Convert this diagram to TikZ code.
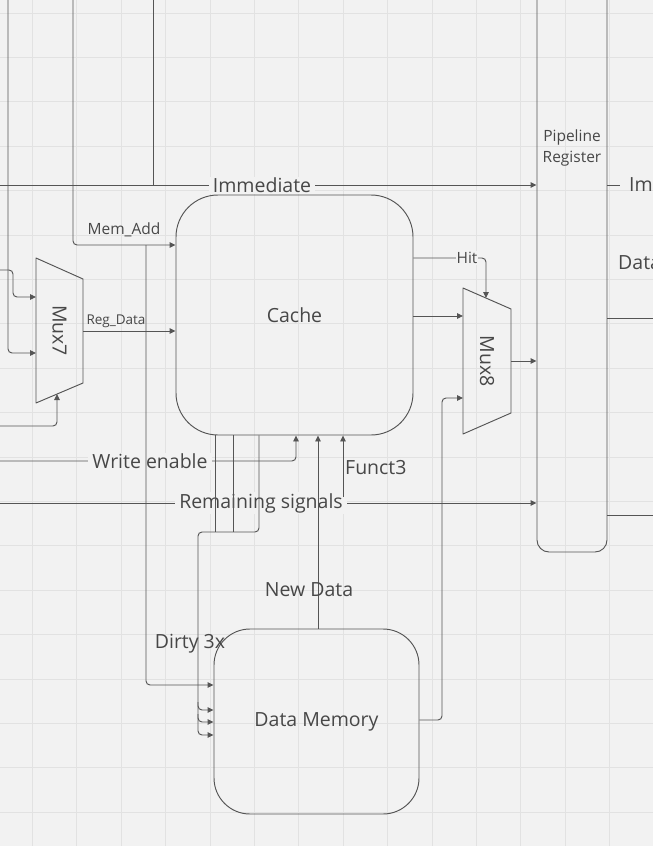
\documentclass[tikz,border=0pt]{standalone}
\usepackage{fontspec}
\setmainfont{Open Sans}
\usetikzlibrary{arrows.meta,positioning}

\definecolor{bgcol}{HTML}{F2F2F2}
\definecolor{gridcol}{HTML}{E2E2E2}
\definecolor{wirecol}{HTML}{555555}
\definecolor{txtcol}{HTML}{474747}

\begin{document}
\begin{tikzpicture}[x=1pt,y=-1pt,
    wire/.style={draw=wirecol, line width=0.95pt, rounded corners=4pt},
    arr/.style={wire, -{Triangle[length=6pt,width=5.5pt]}},
    lbl/.style={text=txtcol, inner sep=1pt, font=\fontsize{19.5}{23}\selectfont},
    cut/.style={lbl, fill=bgcol, inner xsep=4pt},
    small/.style={lbl, font=\fontsize{15.5}{21}\selectfont},
    tiny/.style={lbl, font=\fontsize{13.5}{16}\selectfont},
    block/.style={draw=wirecol, line width=0.95pt, inner sep=0pt, text=txtcol,
        font=\fontsize{19.5}{23}\selectfont},
    muxbody/.style={draw=wirecol, line width=0.95pt, line join=round}]

    \useasboundingbox (0,0) rectangle (653,846);
    \clip (0,0) rectangle (653,846);

    % Canvas grid
    \fill[bgcol] (0,0) rectangle (653,846);
    \foreach \gx in {0,...,13}
        \draw[gridcol, line width=0.9pt] (32.5+44.4*\gx,0) -- (32.5+44.4*\gx,846);
    \foreach \gy in {0,...,18}
        \draw[gridcol, line width=0.9pt] (0,13+44.4*\gy) -- (653,13+44.4*\gy);

    % Blocks
    \node[block, rounded corners=42pt, minimum width=237pt, minimum height=240pt] (cache) at (294.5,315) {Cache};
    \node[block, rounded corners=36pt, minimum width=205pt, minimum height=185pt] (dmem) at (316.5,721.5) {Data Memory};
    \node[block, rounded corners=12pt, minimum width=70pt, minimum height=580pt] (preg) at (572,262) {};
    \node[small, align=center] (pregtxt) at (572,148) {Pipeline\\Register};

    % Multiplexers
    \draw[muxbody] (36,258) -- (83,279) -- (83,383) -- (36,403) -- cycle;
    \node[lbl, rotate=-90] (mux7) at (59.5,330.5) {Mux7};
    \coordinate (m7a) at (36,297);
    \coordinate (m7b) at (36,353);
    \coordinate (m7s) at (57,394);
    \coordinate (m7o) at (83,331);
    \draw[muxbody] (463,288) -- (511,309) -- (511,413) -- (463,434) -- cycle;
    \node[lbl, rotate=-90] (mux8) at (487,361) {Mux8};
    \coordinate (m8a) at (463,316);
    \coordinate (m8b) at (463,398);
    \coordinate (m8s) at (486,298);
    \coordinate (m8o) at (511,361);

    % Labelled buses
    \draw[arr] (0,185) -- (preg.west |- 0,185);
    \node[cut] (immlbl) at (262,185) {Immediate};
    \draw[arr] (0,461) -| (cache.south -| 296,0);
    \node[cut] (welbl) at (150,461) {Write enable};
    \draw[arr] (0,503) -- (preg.west |- 0,503);
    \node[cut] (remlbl) at (261,503) {Remaining signals};
    \draw[arr] (cache.east |- 0,258) -| (m8s);
    \node[cut, small] (hitlbl) at (467,258) {Hit};

    % Left side
    \draw[arr] (8,0) |- (m7b);
    \draw[arr] (0,270) -| (13,297) -- (m7a);
    \draw[arr] (0,426) -| (m7s);
    \draw[wire] (153,0) -- (153,185);
    \draw[arr] (73,0) |- (cache.west |- 0,245);
    \node[small] (addlbl) at (124,230) {Mem\_Add};
    \draw[arr] (146,245) |- (dmem.west |- 0,685);
    \draw[arr] (m7o) -- (cache.west |- m7o);
    \node[tiny] (reglbl) at (116,321) {Reg\_Data};

    % Cache to Mux8 and register
    \draw[arr] (cache.east |- 0,316) -- (m8a);
    \draw[arr] (m8o) -- (preg.west |- m8o);
    \draw[arr] (dmem.east |- 0,720) -| (442,398) -- (m8b);

    % Between cache and memory
    \draw[arr] (343,497) -- (cache.south -| 343,0);
    \node[lbl, anchor=west] (f3lbl) at (344,468) {Funct3};
    \draw[arr] (dmem.north -| 318,0) -- (cache.south -| 318,0);
    \node[lbl] (ndlbl) at (309,590) {New Data};
    \foreach \dx in {215,233}
        \draw[wire] (cache.south -| \dx,0) -- (\dx,532);
    \draw[arr] (cache.south -| 259,0) |- (198,532) |- (dmem.west |- 0,735);
    \foreach \dy in {710,722}
        \draw[arr] (198,\dy-8) |- (dmem.west |- 0,\dy);
    \node[lbl] (dirtylbl) at (190,644) {Dirty 3x};

    % Register outputs
    \draw[wire] (preg.east |- 0,185) -- (620,185);
    \node[lbl, anchor=west] (imout) at (628,185) {Im};
    \node[lbl, anchor=west] (dataout) at (617,263) {Data};
    \draw[wire] (preg.east |- 0,318) -- (653,318);
    \draw[wire] (preg.east |- 0,515) -- (653,515);
\end{tikzpicture}
\end{document}
